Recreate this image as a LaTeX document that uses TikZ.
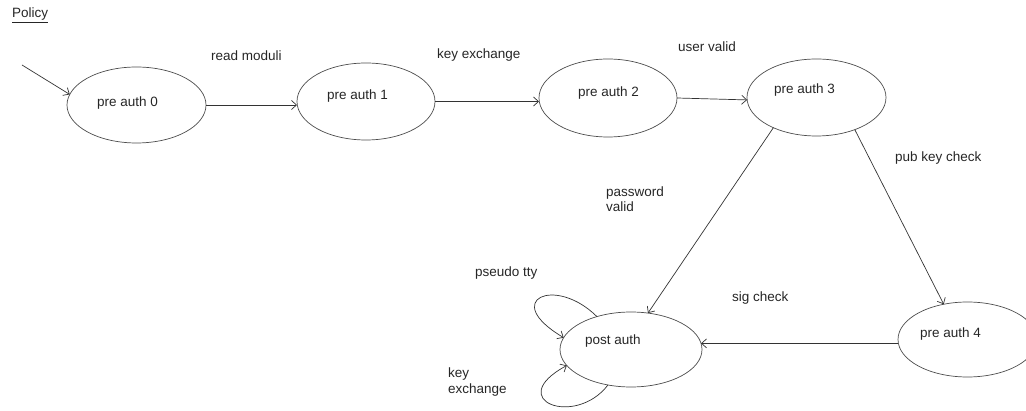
\documentclass[tikz,border=0pt]{standalone}
\usepackage{fontspec}
\setmainfont{Liberation Sans}
\usetikzlibrary{arrows.meta,shapes.geometric}
\begin{document}
\begin{tikzpicture}[x=1pt,y=-1pt,
  state/.style={draw=black!70, line width=0.7pt, ellipse, inner sep=0pt, outer sep=0pt},
  lbl/.style={anchor=base west, inner sep=0pt, text=black!85, font=\fontsize{13.5}{15}\selectfont},
  edge/.style={draw=black!80, line width=0.7pt, -{Straight Barb[length=5pt,width=9pt]}}]
\useasboundingbox (0,0) rectangle (1026,411);
% states
\node[state, minimum width=139pt, minimum height=76pt] (s0) at (136.5,105) {};
\node[state, minimum width=138pt, minimum height=77pt] (s1) at (366,101.5) {};
\node[state, minimum width=138pt, minimum height=78pt] (s2) at (608,98) {};
\node[state, minimum width=139pt, minimum height=77pt] (s3) at (816.5,97.5) {};
\node[state, minimum width=139pt, minimum height=75pt] (s4) at (967.5,339.5) {};
\node[state, minimum width=142pt, minimum height=75pt] (post) at (631,349.5) {};
% state texts
\node[lbl] (t0) at (97,107) {pre auth 0};
\node[lbl] (t1) at (327,100) {pre auth 1};
\node[lbl] (t2) at (578,97) {pre auth 2};
\node[lbl] (t3) at (774,94) {pre auth 3};
\node[lbl] (t4) at (920,338) {pre auth 4};
\node[lbl] (tp) at (585,345) {post auth};
% title
\node[lbl] (policy) at (12,18) {\underline{Policy}};
% edges
\coordinate (in) at (22,65);
\draw[edge] (in) -- (s0.171);
\draw[edge] (s0.east) -- (s0.east -| s1.west);
\draw[edge] (s1.east) -- (s1.east -| s2.west);
\draw[edge] (s2.east) -- (s3.182);
\draw[edge] (s3.215) -- (post.65);
\draw[edge] (s3.320) -- (s4.124);
\draw[edge] (post.5 -| s4.west) -- (post.5);
\draw[edge] (post.136) .. controls (555,275) and (500,300) .. (post.170);
\draw[edge] (post.237) .. controls (575,428) and (503,400) .. (post.194);
% edge labels
\node[lbl] (l01) at (211,61) {read moduli};
\node[lbl] (l12) at (437,59) {key exchange};
\node[lbl] (l23) at (678,52) {user valid};
\node[lbl] (l34) at (895,162) {pub key check};
\node[lbl, align=left] (l3p) at (606,212) {password\\valid};
\node[lbl] (l4p) at (732,302) {sig check};
\node[lbl] (lpt) at (475,277) {pseudo tty};
\node[lbl, align=left, font=\fontsize{13.5}{16.5}\selectfont] (lke) at (448,394) {key\\exchange};
\end{tikzpicture}
\end{document}
